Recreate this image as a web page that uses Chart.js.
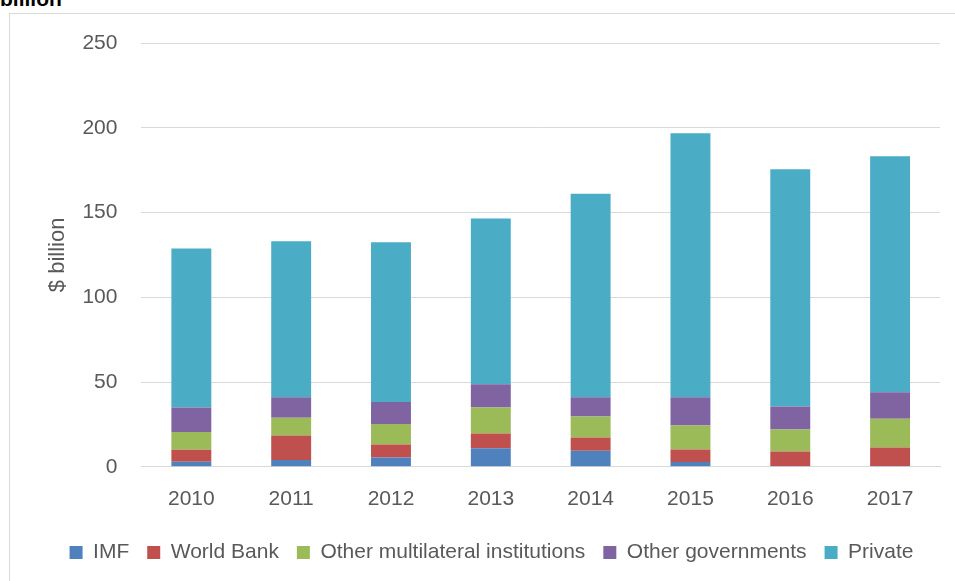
<!DOCTYPE html>
<html>
<head>
<meta charset="utf-8">
<script src="https://cdn.jsdelivr.net/npm/chart.js@4.4.1/dist/chart.umd.min.js"></script>
<style>
  html, body { margin: 0; padding: 0; background: #fff; overflow: hidden; }
  body { width: 955px; height: 581px; position: relative; font-family: "Liberation Sans", Arial, sans-serif; }
  #title { position: absolute; left: 0; top: -13px; font-weight: bold; font-size: 21px; color: #000; }
  #frame { position: absolute; left: 9px; top: 13px; width: 960px; height: 620px; border: 1px solid #d9d9d9; }
  #wrap { position: absolute; left: 10px; top: 14px; width: 945px; height: 567px; }
</style>
</head>
<body>
<div id="title">billion</div>
<div id="frame"></div>
<div id="wrap"><canvas id="chart"></canvas></div>
<script>
// values, $ billion
const years = ['2010', '2011', '2012', '2013', '2014', '2015', '2016', '2017'];
const imf = [3, 4, 5.5, 11, 9.5, 2.8, 0.5, 0.5];
const worldBank = [7, 14.5, 7.7, 8.7, 7.8, 7.4, 8.5, 10.9];
const otherMultilateral = [10.5, 10.5, 12, 15.3, 12.4, 14.2, 13, 17];
const otherGovernments = [14.5, 12, 13, 13.7, 11.3, 16.6, 13.6, 15.6];
const privateCreditors = [93.8, 92, 94.3, 97.7, 120, 155.8, 139.9, 139.2];
const yTicks = [0, 50, 100, 150, 200, 250];

const font = { family: '"Liberation Sans", Arial, sans-serif', size: 21 };

const series = [
  { label: 'IMF', data: imf, color: '#4f81bd' },
  { label: 'World Bank', data: worldBank, color: '#c0504d' },
  { label: 'Other multilateral institutions', data: otherMultilateral, color: '#9bbb59' },
  { label: 'Other governments', data: otherGovernments, color: '#8064a2' },
  { label: 'Private', data: privateCreditors, color: '#4bacc6' }
];

new Chart(document.getElementById('chart'), {
  type: 'bar',
  data: {
    labels: years,
    datasets: series.map(s => ({
      label: s.label,
      data: s.data,
      backgroundColor: s.color,
      borderWidth: 0,
      barPercentage: 0.4,
      categoryPercentage: 1
    }))
  },
  options: {
    responsive: true,
    maintainAspectRatio: false,
    animation: false,
    layout: { padding: { left: 33, right: 15, top: 3, bottom: 8 } },
    plugins: {
      legend: {
        position: 'bottom',
        labels: { color: '#595959', font: font, boxWidth: 13, boxHeight: 13, padding: 18 }
      },
      tooltip: { enabled: false }
    },
    scales: {
      x: {
        stacked: true,
        grid: { display: false },
        border: { color: '#d9d9d9' },
        ticks: { color: '#595959', font: font, padding: 12 }
      },
      y: {
        stacked: true,
        min: 0,
        max: 250,
        afterBuildTicks: axis => { axis.ticks = yTicks.map(v => ({ value: v })); },
        grid: { color: '#d9d9d9', drawTicks: false },
        border: { display: false },
        ticks: { color: '#595959', font: font, padding: 24 },
        title: { display: true, text: '$ billion', color: '#595959', font: { family: font.family, size: 22 }, padding: { top: 2, bottom: 13 } },
        afterFit: axis => { axis.width -= 26; axis.paddingTop = 29; }
      }
    }
  }
});
</script>
</body>
</html>
